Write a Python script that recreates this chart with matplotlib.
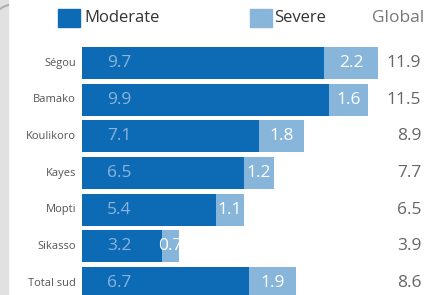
import matplotlib
matplotlib.use("Agg")
import matplotlib.pyplot as plt
from matplotlib.patches import Rectangle

plt.rcParams['font.family'] = ['Open Sans', 'DejaVu Sans']

regions = ["Ségou", "Bamako", "Koulikoro", "Kayes", "Mopti", "Sikasso", "Total sud"]
moderate = [9.7, 9.9, 7.1, 6.5, 5.4, 3.2, 6.7]
severe = [2.2, 1.6, 1.8, 1.2, 1.1, 0.7, 1.9]
global_vals = [11.9, 11.5, 8.9, 7.7, 6.5, 3.9, 8.6]

MOD_COL = "#0d6bb6"
SEV_COL = "#88b5da"

W, H = 445, 295
fig = plt.figure(figsize=(W / 100, H / 100), dpi=100)
fig.patch.set_facecolor("white")

# grey strip on the left edge
fig.patches.append(Rectangle((0, 0), 8 / W, 1, transform=fig.transFigure,
                             color="#e1e1e1", zorder=0))
fig.add_artist(plt.Line2D([0, 3 / W, 8 / W], [1 - 9 / H, 1 - 7 / H, 1 - 5 / H],
                          transform=fig.transFigure, color="#b0b0b0", lw=1.5))

px_per_unit = 24.9
x0 = 82
ax = fig.add_axes([x0 / W, 0, 1 - x0 / W, 1])
ax.set_xlim(0, (W - x0) / px_per_unit)
step = 36.67
ax.set_ylim((H - 63) / step, -63 / step)
ax.axis("off")

ys = list(range(len(regions)))
ax.barh(ys, moderate, height=0.873, color=MOD_COL)
ax.barh(ys, severe, left=moderate, height=0.873, color=SEV_COL)

for y, name, m, s, g in zip(ys, regions, moderate, severe, global_vals):
    ax.text(-6 / px_per_unit, y, name, ha="right", va="center",
            fontsize=8, color="#555555")
    ax.text(1.0, y, f"{m:.1f}", ha="left", va="center",
            fontsize=12.5, color="#8ab4dc")
    ax.text(m + s / 2, y, f"{s:.1f}", ha="center", va="center",
            fontsize=12.5, color="white")
    ax.text(13.62, y, f"{g:.1f}", ha="right", va="center",
            fontsize=12.5, color="#666666")

# legend row
fig.patches.append(Rectangle((58 / W, 1 - 27 / H), 22 / W, 18 / H,
                             transform=fig.transFigure, color=MOD_COL))
fig.text(84 / W, 1 - 18 / H, "Moderate", ha="left", va="center",
         fontsize=12, color="#333333")
fig.patches.append(Rectangle((250 / W, 1 - 27 / H), 22 / W, 18 / H,
                             transform=fig.transFigure, color=SEV_COL))
fig.text(274 / W, 1 - 18 / H, "Severe", ha="left", va="center",
         fontsize=12, color="#333333")
fig.text(372 / W, 1 - 18 / H, "Global", ha="left", va="center",
         fontsize=12.5, color="#777777")

fig.savefig("out.png", dpi=100)
